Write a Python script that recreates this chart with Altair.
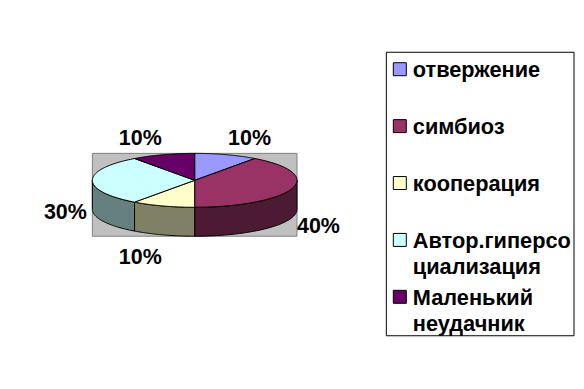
import numpy as np
import pandas as pd
import altair as alt

categories = ["отвержение", "симбиоз", "кооперация", "Автор.гиперсоциализация", "Маленький неудачник"]
legend_lines = [["отвержение"], ["симбиоз"], ["кооперация"], ["Автор.гиперсо", "циализация"], ["Маленький", "неудачник"]]
shares = [10, 40, 10, 30, 10]
top_colors = ["#9999FF", "#993366", "#FFFFCC", "#CCFFFF", "#660066"]
side_colors = ["#4D4D80", "#4D1A33", "#808066", "#668080", "#330033"]

# layout, in page pixels
CX, CY, RX, RY, DEPTH = 195, 180.3, 102.5, 27, 29
LABEL_XY = [(250, 139), (319, 227), (140.5, 258), (65.5, 213), (140.5, 139)]
LEGEND_X, LEGEND_TEXT_X, LEGEND_Y0, LEGEND_STEP, LINE_H = 400.5, 413.5, 69, 57, 26
FONT = "Liberation Sans"

x_s = alt.Scale(domain=[8, 576], range=[0, 568], nice=False, zero=False)
y_s = alt.Scale(domain=[8, 381], range=[0, 373], nice=False, zero=False)
X = lambda f="x": alt.X(f + ":Q", scale=x_s, axis=None)
Y = lambda f="y": alt.Y(f + ":Q", scale=y_s, axis=None)


def ell(a, dy=0.0):
    return CX + RX * np.sin(a), CY + dy - RY * np.cos(a)


def poly(xs, ys, fill, width=1.0):
    xs, ys = list(xs) + [xs[0]], list(ys) + [ys[0]]
    df = pd.DataFrame({"x": xs, "y": ys, "i": range(len(xs))})
    return alt.Chart(df).mark_line(fill=fill, stroke="black", strokeWidth=width, interpolate="linear").encode(
        x=X(), y=Y(), order="i:Q"
    )


layers = []
# grey plot background
layers.append(
    poly([CX - RX, CX + RX, CX + RX, CX - RX], [CY - RY, CY - RY, CY + RY + DEPTH, CY + RY + DEPTH], "#C0C0C0").mark_line(
        fill="#C0C0C0", stroke="#808080", strokeWidth=1
    )
)

edges = 2 * np.pi * np.cumsum([0] + shares) / sum(shares)
# side walls (visible lower half only)
for i in range(len(shares)):
    a0, a1 = max(edges[i], np.pi / 2), min(edges[i + 1], 3 * np.pi / 2)
    if a1 <= a0:
        continue
    t = np.linspace(a0, a1, 60)
    tx, ty = ell(t)
    bx, by = ell(t[::-1], DEPTH)
    layers.append(poly(np.r_[tx, bx], np.r_[ty, by], side_colors[i]))
# top slices
for i in range(len(shares)):
    t = np.linspace(edges[i], edges[i + 1], 80)
    tx, ty = ell(t)
    layers.append(poly(np.r_[CX, tx], np.r_[CY, ty], top_colors[i]))

# percentage labels
lab = pd.DataFrame({"x": [p[0] for p in LABEL_XY], "y": [p[1] for p in LABEL_XY], "t": [f"{s}%" for s in shares]})
layers.append(
    alt.Chart(lab).mark_text(font=FONT, fontSize=21.5, fontWeight="bold", color="black", align="center", baseline="middle").encode(
        x=X(), y=Y(), text="t:N"
    )
)

# legend box
layers.append(
    poly([387, 575, 575, 387], [52, 52, 336, 336], "white")
)
leg = pd.DataFrame({"y": [LEGEND_Y0 + LEGEND_STEP * k for k in range(5)], "x": LEGEND_X, "cat": categories})
layers.append(
    alt.Chart(leg).mark_point(shape="square", size=169, filled=True, stroke="black", strokeWidth=1, opacity=1).encode(
        x=X(), y=Y(),
        fill=alt.Fill("cat:N", scale=alt.Scale(domain=categories, range=top_colors), legend=None),
    )
)
rows = [
    {"x": LEGEND_TEXT_X, "y": LEGEND_Y0 + 1 + LEGEND_STEP * k + LINE_H * j, "t": line}
    for k, lines in enumerate(legend_lines)
    for j, line in enumerate(lines)
]
layers.append(
    alt.Chart(pd.DataFrame(rows)).mark_text(font=FONT, fontSize=21.8, fontWeight="bold", color="black", align="left", baseline="middle").encode(
        x=X(), y=Y(), text="t:N"
    )
)

chart = (
    alt.layer(*layers)
    .properties(width=568, height=373, padding=0, background="white")
    .configure_view(stroke=None)
)
chart.save("out.html", embed_options={"renderer": "svg", "actions": False})
